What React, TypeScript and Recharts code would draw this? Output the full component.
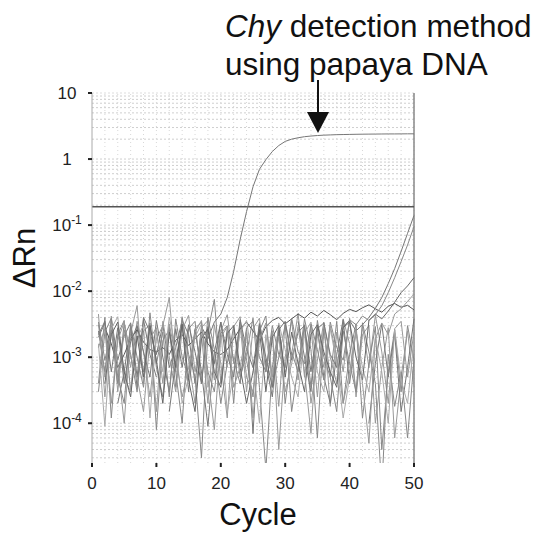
import { LineChart, Line, XAxis, YAxis, ReferenceLine } from "recharts";

// cycle numbers
const cycles = [
  1, 2, 3, 4, 5, 6, 7, 8, 9, 10, 11, 12, 13, 14, 15, 16, 17, 18, 19, 20, 21, 22, 23, 24, 25,
  26, 27, 28, 29, 30, 31, 32, 33, 34, 35, 36, 37, 38, 39, 40, 41, 42, 43, 44, 45, 46, 47, 48, 49, 50,
];

// all series below are ΔRn x 1000 (null = negative reading, not drawn)
const papaya = [
  2.5, 0.6, 3.8, 0.9, 2.1, 3.3, 0.5, 4.0, 2.4, 1.1, 3.1, 0.7, 1.4, 3.6, 2.2, 0.4, 2.9, 1.9, 3.4, 4.5,
  8, 20, 60, 160, 380, 700, 980, 1300, 1600, 1850, 2000, 2100, 2180, 2230, 2270, 2300, 2320, 2340, 2350, 2360,
  2370, 2380, 2385, 2390, 2395, 2400, 2400, 2405, 2410, 2410,
];
const n1 = [
  3.1, 0.5, 4.2, 0.3, 2.6, 0.7, 3.5, 1.2, 0.25, 1.9, 3.0, 8.0, 0.6, 4.1, 0.9, 0.2, 2.8, 3.6, 0.45, 2.5,
  4.4, 0.8, 3.2, 0.3, 2.7, 3.9, 0.6, 2.3, 0.18, 3.4, 1.1, 4.6, 0.5, 2.9, 0.25, 3.3, 1.0, 0.4, 3.8, 1.6,
  0.3, 3.0, 0.7, 4.3, 1.2, 0.2, 2.7, 3.5, 0.5, 2.4,
];
const n2 = [
  0.4, 4.0, 0.12, 2.2, 3.6, 0.3, 2.9, 0.6, 3.3, 0.08, 1.8, 2.6, 0.35, 3.9, 1.1, 0.5, 0.03, 2.4, 7.5, 0.4,
  2.8, 0.2, 3.4, 0.9, 0.25, 2.5, 4.2, 0.35, 1.0, 3.1, 0.15, 0.7, 3.8, 1.3, 0.06, 2.7, 0.5, 3.5, 0.2, 1.1,
  3.2, 0.12, 0.8, 2.9, 0.04, 0.6, 2.6, 0.3, 3.0, 0.9,
];
const n3 = [
  null, 2.8, 1.6, 0.7, 1.1, 1.9, 2.6, 1.7, 1.3, 1.2, 1.4, 1.1, 1.8, 2.2, 1.5, 1.9, 2.4, 1.6, 1.2, 1.1,
  1.3, 1.9, 2.7, 3.4, 2.5, 1.8, 2.9, 3.6, 4.0, 3.2, 3.8, 4.5, 3.9, 4.8, 4.2, 5.1, 4.4, 3.7, 4.6, 5.3,
  4.9, 5.6, 6.2, 5.4, 4.8, 5.9, 6.5, 5.7, 6.1, 5.2,
];
const n4 = [
  4.5, 0.25, 3.0, 0.8, 0.1, 2.3, 6.0, 0.4, 2.7, 0.15, 3.5, 1.0, 0.3, 2.6, 4.3, 0.6, 2.2, 0.2, 3.1, 0.8,
  0.12, 2.9, 4.1, 0.5, 0.3, 3.3, 0.7, 2.5, 0.04, 1.0, 3.6, 0.45, 2.8, 0.2, 0.9, 3.4, 0.18, 2.4, 0.6, 3.9,
  0.25, 2.2, 3.0, 0.1, 0.7, 2.8, 0.06, 0.5, 2.5, 0.35,
];
const n5 = [
  2.0, 3.3, null, 0.2, 0.6, 2.9, 0.35, 3.7, 1.1, 0.5, null, 0.15, 0.9, 3.1, 0.3, 2.6, 0.6, 0.09, 1.2, 3.4,
  0.7, null, 0.4, 2.6, 0.07, 3.0, 0.8, 0.25, 2.4, 0.6, null, 3.5, 1.0, 0.3, 2.9, 0.5, 0.2, 1.1, 3.7, 0.4,
  2.6, null, 0.1, 0.8, 3.2, 0.5, 2.3, 0.15, 0.7, 3.8,
];
const n6 = [
  0.3, 2.4, 3.9, 0.5, 0.2, 3.2, 1.0, 0.35, 4.7, 0.7, 0.25, 2.9, 0.6, 0.1, 2.7, 3.5, 0.4, 4.0, 1.3, 0.2,
  0.8, 3.0, 0.5, 1.1, 3.9, 0.35, 0.02, 0.7, 2.8, 0.2, 1.2, 0.6, 3.1, 0.35, 3.6, 1.0, 0.5, 0.15, 2.5, 0.8,
  0.3, 3.3, 1.2, 0.4, 0.01, 1.1, 0.18, 0.6, 0.06, 0.9,
];
const n7 = [
  1.6, 0.09, 2.7, 4.1, 0.5, 0.3, 2.0, 3.0, 0.12, 2.5, 0.6, 4.0, 1.4, 0.2, 0.5, 2.0, 3.2, 0.35, 0.8, 2.6,
  0.15, 0.6, 2.4, 3.6, 0.8, 0.1, 2.2, 0.4, 3.3, 1.3, 0.5, 0.25, 2.3, 3.4, 0.6, 0.3, 2.7, 0.8, 0.12, 0.5,
  2.5, 0.7, 0.3, 2.0, 0.6, 0.1, 2.6, 0.45, 0.2, 1.8,
];
const late1 = [
  2.2, 3.5, 0.6, 2.8, 0.4, 1.7, 3.0, 1.2, 0.5, 3.6, 1.0, 0.3, 2.7, 0.7, 3.1, 1.2, 0.4, 2.9, 0.8, 3.4,
  1.1, 0.5, 3.7, 1.3, 0.7, 3.2, 1.0, 0.35, 2.6, 3.5, 0.9, 2.4, 3.0, 0.6, 2.7, 3.3, 1.1, 0.7, 2.9, 3.6,
  2.5, 3.1, 4.0, 5.5, 8.0, 13, 22, 40, 75, 140,
];
const late2 = [
  3.4, 0.9, 2.6, 0.4, 3.3, 1.1, 0.3, 2.5, 3.1, 0.8, 2.4, 0.25, 3.8, 1.0, 0.5, 2.7, 3.4, 0.6, 0.3, 2.3,
  3.0, 0.9, 0.4, 2.8, 3.5, 1.0, 0.6, 3.0, 1.1, 0.7, 3.9, 1.2, 0.8, 3.2, 1.3, 0.45, 3.4, 1.4, 0.9, 3.7,
  3.1, 4.2, 3.6, 4.4, 6.0, 9.5, 16, 28, 50, 95,
];
const late3 = [
  null, 0.4, 2.2, 3.4, 0.6, 0.25, 2.1, 0.5, 3.0, 0.9, 0.2, 2.4, 0.7, 3.2, 0.45, 0.15, 1.9, 2.7, 0.6, 0.35,
  2.3, 3.0, 0.7, 0.2, 0.6, 2.6, 0.3, 2.0, 3.0, 0.5, 2.4, 0.8, 0.3, 2.2, 3.1, 1.2, 0.6, 0.35, 2.8, 3.4,
  1.0, 0.45, 3.6, 4.5, 3.8, 5.0, 6.8, 9.5, 12, 16,
];
const late4 = [
  1.4, 2.7, 0.2, 1.8, 3.4, 1.0, 0.5, 0.15, 1.9, 2.8, 0.4, 3.2, 1.0, 0.25, 0.7, 2.4, 3.6, 0.5, 0.08, 2.0,
  2.9, 0.35, 0.7, 2.5, 0.12, 1.8, 3.3, 0.5, 2.1, 0.3, 0.8, 2.9, 0.6, 0.07, 2.3, 0.7, 3.0, 1.0, 0.2, 0.6,
  2.6, 0.4, 0.05, 1.9, 3.3, 2.2, 4.5, 5.4, 7.0, 9.0,
];

const threshold = 0.19;
const xTicks = [0, 10, 20, 30, 40, 50];
const yTicks = [1e-4, 1e-3, 1e-2, 1e-1, 1, 10];

const series = [
  { key: "papaya", values: papaya, color: "#777" },
  { key: "n1", values: n1, color: "#999" },
  { key: "n2", values: n2, color: "#888" },
  { key: "n3", values: n3, color: "#555" },
  { key: "n4", values: n4, color: "#999" },
  { key: "n5", values: n5, color: "#777" },
  { key: "n6", values: n6, color: "#888" },
  { key: "n7", values: n7, color: "#aaa" },
  { key: "late1", values: late1, color: "#777" },
  { key: "late2", values: late2, color: "#888" },
  { key: "late3", values: late3, color: "#666" },
  { key: "late4", values: late4, color: "#999" },
];

const data = cycles.map((c, i) => {
  const row: Record<string, number | null> = { cycle: c };
  series.forEach((s) => {
    const v = s.values[i];
    row[s.key] = v == null ? null : v / 1000;
  });
  return row;
});

// minor log grid lines
const hGrid: number[] = [];
[-5, -4, -3, -2, -1, 0].forEach((e) => {
  [1, 2, 3, 4, 5, 6, 7, 8, 9].forEach((k) => {
    const v = k * Math.pow(10, e);
    if (v >= 3e-5 && v < 10) hGrid.push(v);
  });
});
const vGrid = cycles.filter((c) => c % 2 === 0);

const font = "'Liberation Sans', Arial, sans-serif";

const YTick = (props: any) => {
  const { y, payload } = props;
  const exp = Math.round(Math.log10(payload.value));
  if (exp >= 0) {
    return (
      <text x={67} y={y} dy={6} textAnchor="middle" fontSize={17} fill="#222" fontFamily={font}>
        {exp === 0 ? "1" : "10"}
      </text>
    );
  }
  return (
    <text x={67} y={y} dy={6} textAnchor="middle" fontSize={17} fill="#222" fontFamily={font}>
      <tspan>10</tspan>
      <tspan dy={-7} fontSize={12}>
        {exp}
      </tspan>
    </text>
  );
};

const XTick = (props: any) => {
  const { x, payload } = props;
  return (
    <text x={x} y={489} textAnchor="middle" fontSize={17} fill="#222" fontFamily={font}>
      {payload.value}
    </text>
  );
};

export default function App() {
  return (
    <div style={{ position: "fixed", left: 0, top: 0, width: 538, height: 535, background: "#fff" }}>
      <LineChart width={538} height={535} data={data} margin={{ top: 93, right: 124, bottom: 42, left: 32 }}>
        <XAxis
          dataKey="cycle"
          type="number"
          domain={[0, 50]}
          ticks={xTicks}
          axisLine={false}
          tickLine={{ stroke: "#222", strokeWidth: 2 }}
          tickSize={4}
          tick={<XTick />}
          height={30}
        />
        <YAxis
          scale="log"
          domain={[2.5e-5, 10]}
          allowDataOverflow
          ticks={yTicks}
          width={60}
          axisLine={{ stroke: "#aaa" }}
          tickLine={{ stroke: "#222", strokeWidth: 2 }}
          tickSize={4}
          tick={<YTick />}
        />
        {hGrid.map((v) => (
          <ReferenceLine key={"h" + v} y={v} stroke="#cfcfcf" strokeDasharray="2 2" />
        ))}
        {vGrid.map((c) => (
          <ReferenceLine key={"v" + c} x={c} stroke="#d8d8d8" strokeDasharray="1 3" />
        ))}
        <ReferenceLine y={10} stroke="#ddd" strokeDasharray="2 2" />
        <ReferenceLine x={50} stroke="#888" strokeWidth={1.5} />
        <ReferenceLine y={threshold} stroke="#555" strokeWidth={1.5} />
        {series.map((s) => (
          <Line
            key={s.key}
            dataKey={s.key}
            stroke={s.color}
            strokeWidth={1}
            dot={false}
            type="linear"
            isAnimationActive={false}
          />
        ))}
      </LineChart>
      <svg width={538} height={535} style={{ position: "absolute", left: 0, top: 0, pointerEvents: "none" }}>
        <text x={225} y={37} fontSize={31.5} fill="#111" fontFamily={font}>
          <tspan fontStyle="italic">Chy</tspan> detection method
        </text>
        <text x={225} y={75} fontSize={31.5} fill="#111" fontFamily={font}>
          using papaya DNA
        </text>
        <line x1={318} y1={80} x2={318} y2={116} stroke="#111" strokeWidth={2} />
        <polygon points="307,112 329,112 318,133" fill="#111" />
        <text x={35} y={258} transform="rotate(-90 35 258)" textAnchor="middle" fontSize={31} fill="#111" fontFamily={font}>
          ΔRn
        </text>
        <text x={258} y={525} textAnchor="middle" fontSize={31} fill="#111" fontFamily={font}>
          Cycle
        </text>
      </svg>
    </div>
  );
}
